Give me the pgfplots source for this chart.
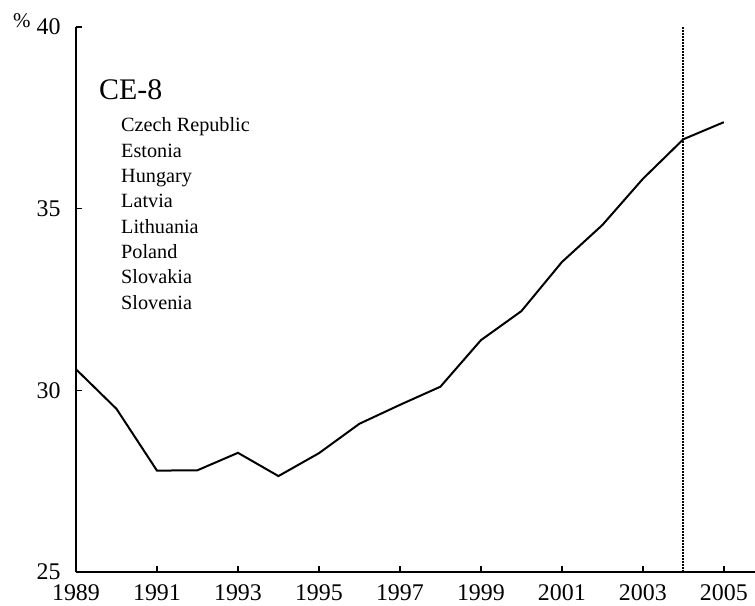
\documentclass[border=0pt]{standalone}
\usepackage{fontspec}
\setmainfont{Liberation Serif}
\usepackage{pgfplots}
\pgfplotsset{compat=1.18}
\begin{document}
\begin{tikzpicture}
\begin{axis}[
  at={(0,0)}, anchor=south west,
  scale only axis, width=679bp, height=545bp,
  xmin=1989, xmax=2005.77, ymin=25, ymax=40,
  axis x line=bottom, axis y line=left,
  axis line style={-, line width=1.5bp, black},
  xtick={1989,1991,...,2005}, ytick={25,30,35,40},
  tick align=inside, major tick length=6bp,
  tick style={line width=1.3bp, black},
  /pgf/number format/assume math mode=true,
  /pgf/number format/1000 sep={},
  tick label style={font=\fontsize{24}{24}\selectfont},
  yticklabel style={xshift=-12bp},
  xticklabel style={yshift=-9bp},
  clip=false,
]
\addplot[black, line width=2bp] coordinates {
(1989,30.58) (1990,29.49) (1991,27.79) (1992,27.80) (1993,28.28)
(1994,27.64) (1995,28.27) (1996,29.08) (1997,29.60) (1998,30.10)
(1999,31.38) (2000,32.18) (2001,33.53) (2002,34.55) (2003,35.82)
(2004,36.91) (2005,37.38)};
\addplot[black, line width=2bp, dash pattern=on 1.6bp off 1.4bp] coordinates {(2004,25) (2004,40)};
\end{axis}
\node[anchor=base west, inner sep=0pt, font=\fontsize{21}{21}\selectfont] at (-63bp,544bp) {\%};
\node[anchor=base west, inner sep=0pt, font=\fontsize{30}{30}\selectfont] at (23bp,472bp) {CE-8};
\foreach \t [count=\i from 0] in {Czech Republic,Estonia,Hungary,Latvia,Lithuania,Poland,Slovakia,Slovenia}{
  \node[anchor=base west, inner sep=0pt, font=\fontsize{20.3}{20.3}\selectfont] at (45bp,{440bp-\i*25.3bp}) {\t};
}
\pgfresetboundingbox
\path[use as bounding box] (-76bp,-34bp) rectangle (679bp,572bp);
\end{tikzpicture}
\end{document}
